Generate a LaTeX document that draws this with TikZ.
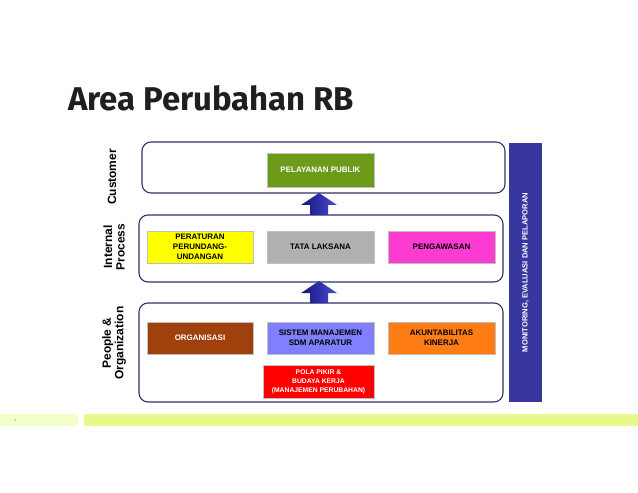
\documentclass[tikz,border=0pt]{standalone}
\usepackage{fontspec}
\setmainfont{Liberation Sans}
\newfontfamily\titlefont{Fira Sans}
\usetikzlibrary{calc}
\definecolor{frameC}{RGB}{50,50,110}
\definecolor{greenC}{RGB}{108,155,26}
\definecolor{yellowC}{RGB}{255,255,0}
\definecolor{grayC}{RGB}{176,176,176}
\definecolor{magentaC}{RGB}{255,60,210}
\definecolor{brownC}{RGB}{160,64,12}
\definecolor{periC}{RGB}{128,128,255}
\definecolor{orangeC}{RGB}{255,125,20}
\definecolor{redC}{RGB}{255,0,0}
\definecolor{monC}{RGB}{58,54,160}
\definecolor{barA}{RGB}{243,255,200}
\definecolor{barB}{RGB}{230,250,140}
\definecolor{arrowDark}{RGB}{20,20,120}
\definecolor{arrowLight}{RGB}{75,75,215}
\definecolor{glowC}{RGB}{170,205,240}
\tikzset{
  frame/.style={draw=frameC, line width=1.1bp, rounded corners=9bp, fill=white},
  cbox/.style={draw=black!25, line width=0.4bp, minimum width=106bp, minimum height=32bp,
    inner sep=1bp, align=center, font=\fontsize{8}{10.3}\selectfont\bfseries},
  sidelabel/.style={rotate=90, align=center, font=\fontsize{12}{12.5}\selectfont\bfseries},
  pics/fatarrow/.style={code={
    \shade[left color=arrowDark, right color=arrowLight]
      (-9,0) -- (-9,-10) -- (-18,-10) -- (0,-22) -- (18,-10) -- (9,-10) -- (9,0) -- cycle;
  }}
}
\begin{document}
\begin{tikzpicture}[x=1bp, y=-1bp]
\useasboundingbox (0,0) rectangle (638,493);
\fill[white] (0,0) rectangle (638,493);

% title
\node[anchor=base west, inner sep=0, text=black!88] (title) at (68,111)
  {\resizebox{286bp}{!}{\titlefont\bfseries Area Perubahan RB}};

% frames
\draw[frame] (142,142) rectangle (505,193);
\coordinate (custS) at (319,193);
\draw[frame] (139,215) rectangle (503,282);
\coordinate (intN) at (319,215);
\coordinate (intS) at (319,282);
\draw[frame] (139,303) rectangle (503,402);
\coordinate (peoN) at (319,303);

% arrows
\pic at (intN) {fatarrow};
\pic at (peoN) {fatarrow};

% boxes
\node[cbox, fill=greenC, text=white, minimum width=107bp, minimum height=34bp] (pel) at (320.5,170) {PELAYANAN PUBLIK};
\node[cbox, fill=yellowC] (per) at (200,247) {PERATURAN\\PERUNDANG-\\UNDANGAN};
\node[cbox, fill=grayC, minimum width=107bp] (tata) at (320.5,247) {TATA LAKSANA};
\node[cbox, fill=magentaC, minimum width=107bp] (peng) at (441.5,247) {PENGAWASAN};
\node[cbox, fill=brownC, text=white] (org) at (200,338) {ORGANISASI};
\node[cbox, fill=periC, minimum width=107bp] (sis) at (320.5,338) {SISTEM MANAJEMEN\\SDM APARATUR};
\node[cbox, fill=orangeC, minimum width=107bp] (akun) at (441.5,338) {AKUNTABILITAS\\KINERJA};
\node[cbox, fill=redC, text=white, minimum width=111bp, minimum height=33bp,
  font=\fontsize{6.8}{9}\selectfont\bfseries] (pola) at (318.5,381.5)
  {POLA PIKIR \&\\BUDAYA KERJA\\(MANAJEMEN PERUBAHAN)};

% monitoring bar
\node[rotate=90, fill=monC, text=white, minimum width=259bp, minimum height=33bp,
  inner sep=0, font=\fontsize{7.6}{8}\selectfont\bfseries] (mon) at (525.5,272.5)
  {MONITORING, EVALUASI DAN PELAPORAN};

% side labels
\node[sidelabel] (lcust) at (112,177) {Customer};
\node[sidelabel] (lint) at (114,247) {Internal\\Process};
\node[sidelabel] (lpeo) at (114,343) {People \&\\Organization};

% bottom bars
\fill[barA] (0,414) rectangle (78,426);
\fill[barB] (84,414) rectangle (638,426);
\node[font=\fontsize{3}{3}\selectfont, text=black!60, inner sep=0] (pg) at (15,420) {4};
\end{tikzpicture}
\end{document}
